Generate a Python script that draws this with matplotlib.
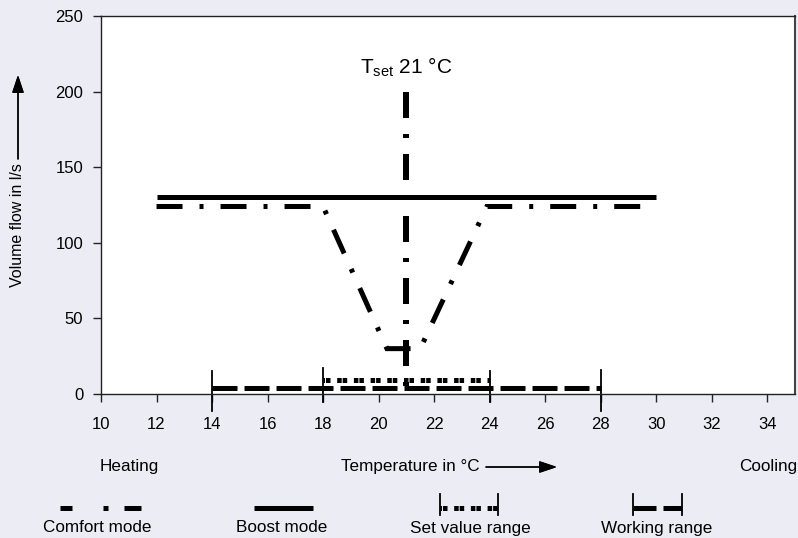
import matplotlib
matplotlib.use("Agg")
import matplotlib.pyplot as plt
from matplotlib.lines import Line2D

# ---------------- data ----------------
x_ticks = [10, 12, 14, 16, 18, 20, 22, 24, 26, 28, 30, 32, 34]
y_ticks = [0, 50, 100, 150, 200, 250]

boost_x = [12, 30]
boost_y = [130, 130]

comfort_x = [12, 18, 20.3, 21.5, 23.9, 30]
comfort_y = [124, 124, 30, 30, 124, 124]

tset_x = [21, 21]
tset_y = [200, 0]

setvalue_x = [18, 24]
setvalue_y = [9, 9]
setvalue_marks = [(18, 17, -5), (24, 15, -5)]

working_x = [14, 28]
working_y = [4, 4]
working_marks = [(14, 15, -11), (28, 16, -11)]

legend_labels = ["Comfort mode", "Boost mode", "Set value range", "Working range"]

# ---------------- style ----------------
plt.rcParams['font.family'] = ['Liberation Sans', 'DejaVu Sans']
plt.rcParams['font.size'] = 12
plt.rcParams['lines.scale_dashes'] = False
plt.rcParams['mathtext.fontset'] = 'custom'
plt.rcParams['mathtext.rm'] = 'Liberation Sans'
plt.rcParams['mathtext.it'] = 'Liberation Sans'

BG = '#ECECF4'
PX = 0.72  # points per pixel at dpi 100
TXT = 12.3

W, H = 798, 538
fig = plt.figure(figsize=(W / 100, H / 100), dpi=100, facecolor=BG)
ax = fig.add_axes([101 / W, 1 - 394 / H, (795 - 101) / W, (394 - 16) / H])
ax.set_facecolor('white')

ax.set_xlim(10, 35)
ax.set_ylim(0, 250)
ax.set_xticks(x_ticks)
ax.set_yticks(y_ticks)
ax.tick_params(axis='both', direction='out', length=8 * PX, width=1, colors='#222222',
               labelcolor='black', labelsize=12)
ax.tick_params(axis='x', pad=11)
ax.tick_params(axis='y', pad=7)
for s in ax.spines.values():
    s.set_linewidth(1)
    s.set_color('#222222')
ax.spines['right'].set_color('#444444')
ax.spines['right'].set_linewidth(1.5)

comfort_dash = (0, (26 * PX, 17 * PX, 4 * PX, 17 * PX))
work_dash = (0, (25 * PX, 7 * PX))
set_dash = (3 * PX, (4.5 * PX, 1 * PX, 4.5 * PX, 6.7 * PX))

# boost
ax.plot(boost_x, boost_y, color='black', lw=5 * PX, solid_capstyle='butt')
# comfort
ax.plot(comfort_x, comfort_y, color='black', lw=5 * PX, linestyle=comfort_dash,
        dash_capstyle='butt', dash_joinstyle='miter')
# Tset
ax.plot(tset_x, tset_y, color='black', lw=6 * PX, linestyle=(0, (26 * PX, 16 * PX, 4 * PX, 16 * PX)),
        dash_capstyle='butt')
# set value range
ax.plot(setvalue_x, setvalue_y, color='black', lw=5 * PX, linestyle=set_dash, dash_capstyle='butt')
for x, y1, y0 in setvalue_marks:
    ax.plot([x, x], [y1, y0], color='black', lw=1.3, clip_on=False)
# working range
ax.plot(working_x, working_y, color='black', lw=5 * PX, linestyle=work_dash, dash_capstyle='butt')
for x, y1, y0 in working_marks:
    ax.plot([x, x], [y1, y0], color='black', lw=1.3, clip_on=False)

ax.text(21, 212, r'$\mathrm{T}_{\mathrm{set}}$ 21 °C', fontsize=15, ha='center', va='baseline')


def fp(x, y):
    return (x / W, 1 - y / H)


# y-axis label with arrow
fig.text(*fp(18, 225), 'Volume flow in l/s', rotation=90, ha='center', va='center', fontsize=11.5)
fig.add_artist(plt.annotate('', xy=fp(18, 75), xytext=fp(18, 159), xycoords='figure fraction',
                            textcoords='figure fraction',
                            arrowprops=dict(arrowstyle='-|>,head_length=0.9,head_width=0.3',
                                            color='black', lw=1, shrinkA=0, shrinkB=0)))

# x-axis annotations
fig.text(*fp(100, 467), 'Heating', ha='left', va='center', fontsize=TXT)
fig.text(*fp(341, 467), 'Temperature in °C', ha='left', va='center', fontsize=TXT)
fig.add_artist(plt.annotate('', xy=fp(557, 467), xytext=fp(486, 467), xycoords='figure fraction',
                            textcoords='figure fraction',
                            arrowprops=dict(arrowstyle='-|>,head_length=0.9,head_width=0.3',
                                            color='black', lw=1, shrinkA=0, shrinkB=0)))
fig.text(*fp(797, 467), 'Cooling', ha='right', va='center', fontsize=TXT)

# legend
ly = 508


def fline(xs, ys, **kw):
    pts = [fp(x, y) for x, y in zip(xs, ys)]
    fig.add_artist(Line2D([p[0] for p in pts], [p[1] for p in pts], color='black', **kw))


fline([59.5, 140.5], [ly, ly], lw=5 * PX,
      linestyle=(0, (12 * PX, 31 * PX, 5 * PX, 16 * PX, 17 * PX, 60 * PX)), dash_capstyle='butt')
fline([254, 313], [ly, ly], lw=5 * PX, solid_capstyle='butt')
fline([440, 498], [ly, ly], lw=5 * PX, linestyle=set_dash, dash_capstyle='butt')
fline([440, 440], [494, 515], lw=1.3)
fline([498, 498], [494, 515], lw=1.3)
fline([633, 682], [ly, ly], lw=5 * PX, linestyle=(2 * PX, (25 * PX, 7 * PX)), dash_capstyle='butt')
fline([633, 633], [494, 515], lw=1.3)
fline([682, 682], [494, 515], lw=1.3)

for cx, lab in zip([97, 282, 470, 657], legend_labels):
    fig.text(*fp(cx, 528), lab, ha='center', va='center', fontsize=TXT)

fig.savefig('out.png', dpi=100, facecolor=BG)
